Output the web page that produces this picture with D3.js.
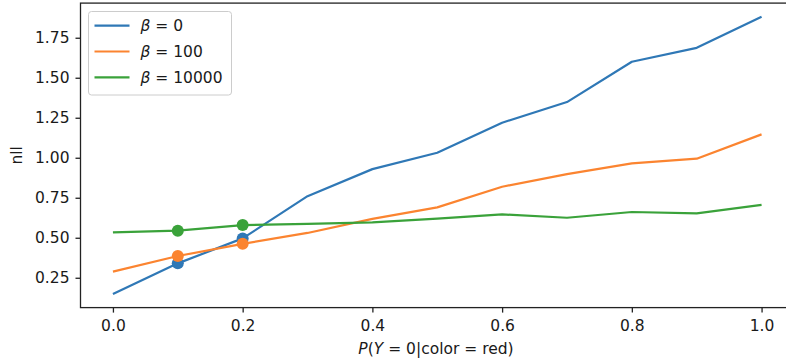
<!DOCTYPE html>
<html>
<head>
<meta charset="utf-8">
<script src="https://cdn.jsdelivr.net/npm/d3@7"></script>
<style>
  body { margin: 0; background: #fff; }
  text { font-family: "DejaVu Sans", sans-serif; fill: #1a1a1a; }
</style>
</head>
<body>
<div id="chart"></div>
<script>
// data
const xs = [0.0, 0.1, 0.2, 0.3, 0.4, 0.5, 0.6, 0.7, 0.8, 0.9, 1.0];
const betaLabels = ['0', '100', '10000'];
const nllBeta0 = [0.148, 0.34, 0.496, 0.76, 0.929, 1.031, 1.219, 1.348, 1.60, 1.687, 1.881];
const nllBeta100 = [0.288, 0.386, 0.462, 0.53, 0.618, 0.69, 0.819, 0.898, 0.965, 0.994, 1.146];
const nllBeta10000 = [0.534, 0.544, 0.579, 0.587, 0.596, 0.619, 0.646, 0.625, 0.661, 0.652, 0.706];
const markedXs = [0.1, 0.2];
const xTicks = [0.0, 0.2, 0.4, 0.6, 0.8, 1.0];
const yTicks = [0.25, 0.5, 0.75, 1.0, 1.25, 1.5, 1.75];

const colors = ['#2f78b6', '#fb8430', '#3aa23a'];
const series = [nllBeta0, nllBeta100, nllBeta10000];

const width = 786, height = 360;
const margin = { left: 80.5, top: 3.1, right: -8, bottom: 52.4 };
const fontSize = '15.5px';

const svg = d3.select('#chart').append('svg')
  .attr('width', width)
  .attr('height', height);

const x = d3.scaleLinear()
  .domain([-0.05, 1.05])
  .range([margin.left, width - margin.right]);

const y = d3.scaleLinear()
  .domain([0.0635, 1.9665])
  .range([height - margin.bottom, margin.top]);

// lines
const line = d3.line()
  .x((d, i) => x(xs[i]))
  .y(d => y(d));

series.forEach((vals, k) => {
  svg.append('path')
    .attr('d', line(vals))
    .attr('fill', 'none')
    .attr('stroke', colors[k])
    .attr('stroke-width', 2.2)
    .attr('stroke-linejoin', 'round');
});

// highlighted points
series.forEach((vals, k) => {
  svg.append('g').selectAll('circle')
    .data(markedXs)
    .enter()
    .append('circle')
    .attr('cx', d => x(d))
    .attr('cy', d => y(vals[xs.indexOf(d)]))
    .attr('r', 6)
    .attr('fill', colors[k]);
});

// axes
const xAxis = svg.append('g')
  .attr('transform', `translate(0, ${height - margin.bottom})`)
  .call(d3.axisBottom(x).tickValues(xTicks).tickFormat(d3.format('.1f')).tickSizeOuter(0).tickSize(5).tickPadding(7.5));

const yAxis = svg.append('g')
  .attr('transform', `translate(${margin.left}, 0)`)
  .call(d3.axisLeft(y).tickValues(yTicks).tickFormat(d3.format('.2f')).tickSizeOuter(0).tickSize(5).tickPadding(6));

[xAxis, yAxis].forEach(a => {
  a.selectAll('text').style('font-size', fontSize).attr('fill', '#1a1a1a');
  a.selectAll('line').attr('stroke', '#222').attr('stroke-width', 1.3);
  a.select('.domain').remove();
});

// frame
svg.append('rect')
  .attr('x', margin.left)
  .attr('y', margin.top)
  .attr('width', x.range()[1] - margin.left)
  .attr('height', height - margin.bottom - margin.top)
  .attr('fill', 'none')
  .attr('stroke', '#222')
  .attr('stroke-width', 1.3);

// axis labels
const xLabel = svg.append('text')
  .attr('x', 436)
  .attr('y', 353.5)
  .attr('text-anchor', 'middle')
  .style('font-size', fontSize);
xLabel.append('tspan').attr('font-style', 'italic').text('P');
xLabel.append('tspan').text('(');
xLabel.append('tspan').attr('font-style', 'italic').text('Y');
xLabel.append('tspan').text(' = 0|color = red)');

svg.append('text')
  .attr('transform', `translate(22, ${(margin.top + height - margin.bottom) / 2}) rotate(-90)`)
  .attr('text-anchor', 'middle')
  .style('font-size', fontSize)
  .text('nll');

// legend
const legend = svg.append('g')
  .attr('transform', 'translate(88.5, 11.5)');

legend.append('rect')
  .attr('width', 143)
  .attr('height', 83.5)
  .attr('rx', 3)
  .attr('fill', '#fff')
  .attr('fill-opacity', 0.8)
  .attr('stroke', '#ccc');

const items = legend.selectAll('.legend-item')
  .data(betaLabels)
  .enter()
  .append('g')
  .attr('class', 'legend-item')
  .attr('transform', (d, i) => `translate(0, ${14.2 + i * 25.8})`);

items.append('line')
  .attr('x1', 6)
  .attr('x2', 41)
  .attr('stroke', (d, i) => colors[i])
  .attr('stroke-width', 2.2);

const labelText = items.append('text')
  .attr('x', 52)
  .attr('y', 5.5)
  .style('font-size', fontSize);
labelText.append('tspan').attr('font-style', 'italic').text('β');
labelText.append('tspan').text(d => ' = ' + d);
</script>
</body>
</html>
